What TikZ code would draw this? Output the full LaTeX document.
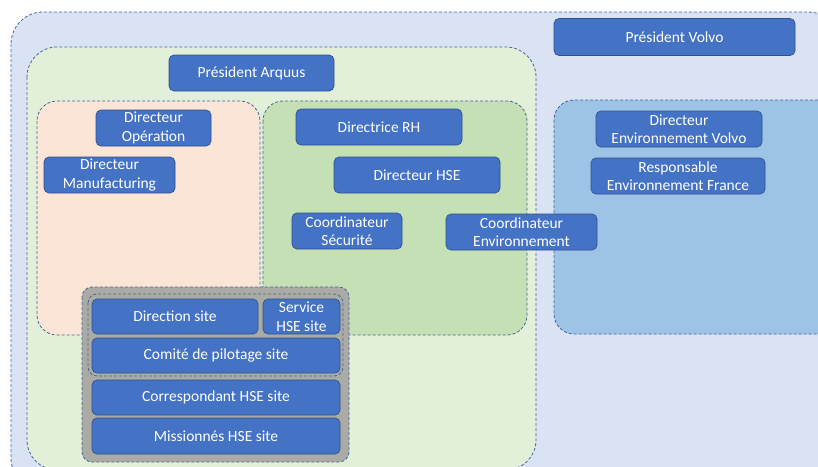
\documentclass[tikz,border=0pt]{standalone}
\usepackage{fontspec}
\setmainfont{Carlito}
\usetikzlibrary{positioning}

\definecolor{nodeblue}{HTML}{4472C4}
\definecolor{nodeline}{HTML}{2F528F}
\definecolor{dashline}{HTML}{4A659E}
\definecolor{outerblue}{HTML}{DAE3F3}
\definecolor{arquusgreen}{HTML}{E2F0D9}
\definecolor{operorange}{HTML}{FBE5D6}
\definecolor{rhgreen}{HTML}{C5E0B4}
\definecolor{volvoblue}{HTML}{9DC3E6}
\definecolor{sitegray}{HTML}{ABABA6}

\tikzset{
  role/.style={draw=nodeline, line width=0.7pt, fill=nodeblue, text=white,
    rounded corners=5pt, align=center, inner sep=1pt,
    font=\fontsize{15.5}{18.5}\selectfont},
  area/.style={draw=dashline, line width=0.8pt, dash pattern=on 3pt off 2pt,
    rounded corners=#1},
  area/.default=20pt
}

\begin{document}
\begin{tikzpicture}[x=1pt,y=-1pt]
	\useasboundingbox (0,0) rectangle (818,466);
	\clip (0,0) rectangle (818,466);

	% groups
	\path[area=32pt, fill=outerblue] (11,12) rectangle (840,490);
	\path[area=30pt, fill=arquusgreen] (27,47) rectangle (536,470);
	\path[area, fill=operorange] (37,101) rectangle (260,335);
	\path[area, fill=rhgreen] (263,101) rectangle (527,335);
	\path[area, fill=volvoblue] (554,100) rectangle (840,334);
	\path[area=10pt, fill=sitegray] (82,287) rectangle (349,462);
	\path[area=9pt, fill=sitegray] (88,294) rectangle (343,376);

	% Volvo / Arquus
	\node[role, minimum width=241pt, minimum height=37pt] (pvolvo) at (674.5,37) {Président Volvo};
	\node[role, minimum width=165pt, minimum height=36pt] (parquus) at (251.5,73) {Président Arquus};

	\node[role, minimum width=115pt, minimum height=36pt] (dop) at (153.5,128) {Directeur\\Opération};
	\node[role, minimum width=131pt, minimum height=36pt] (dmanu) at (109.5,175) {Directeur\\Manufacturing};

	\node[role, minimum width=166pt, minimum height=36pt] (drh) at (379,127) {Directrice RH};
	\node[role, minimum width=166pt, minimum height=36pt] (dhse) at (417,175) {Directeur HSE};
	\node[role, minimum width=110pt, minimum height=36pt] (csecu) at (347,231) {Coordinateur\\Sécurité};
	\node[role, minimum width=151pt, minimum height=36pt] (cenv) at (521.5,232) {Coordinateur\\Environnement};

	\node[role, minimum width=166pt, minimum height=36pt] (denv) at (679,129) {Directeur\\Environnement Volvo};
	\node[role, minimum width=174pt, minimum height=36pt] (renv) at (678,176) {Responsable\\Environnement France};

	% site
	\node[role, minimum width=166pt, minimum height=35pt] (dsite) at (175,316.5) {Direction site};
	\node[role, minimum width=77pt, minimum height=35pt] (shse) at (301.5,316.5) {Service\\HSE site};
	\node[role, minimum width=248pt, minimum height=35pt] (copil) at (216,355.5) {Comité de pilotage site};
	\node[role, minimum width=248pt, minimum height=35pt] (corr) at (216,397.5) {Correspondant HSE site};
	\node[role, minimum width=248pt, minimum height=36pt] (miss) at (216,436) {Missionnés HSE site};
\end{tikzpicture}
\end{document}
